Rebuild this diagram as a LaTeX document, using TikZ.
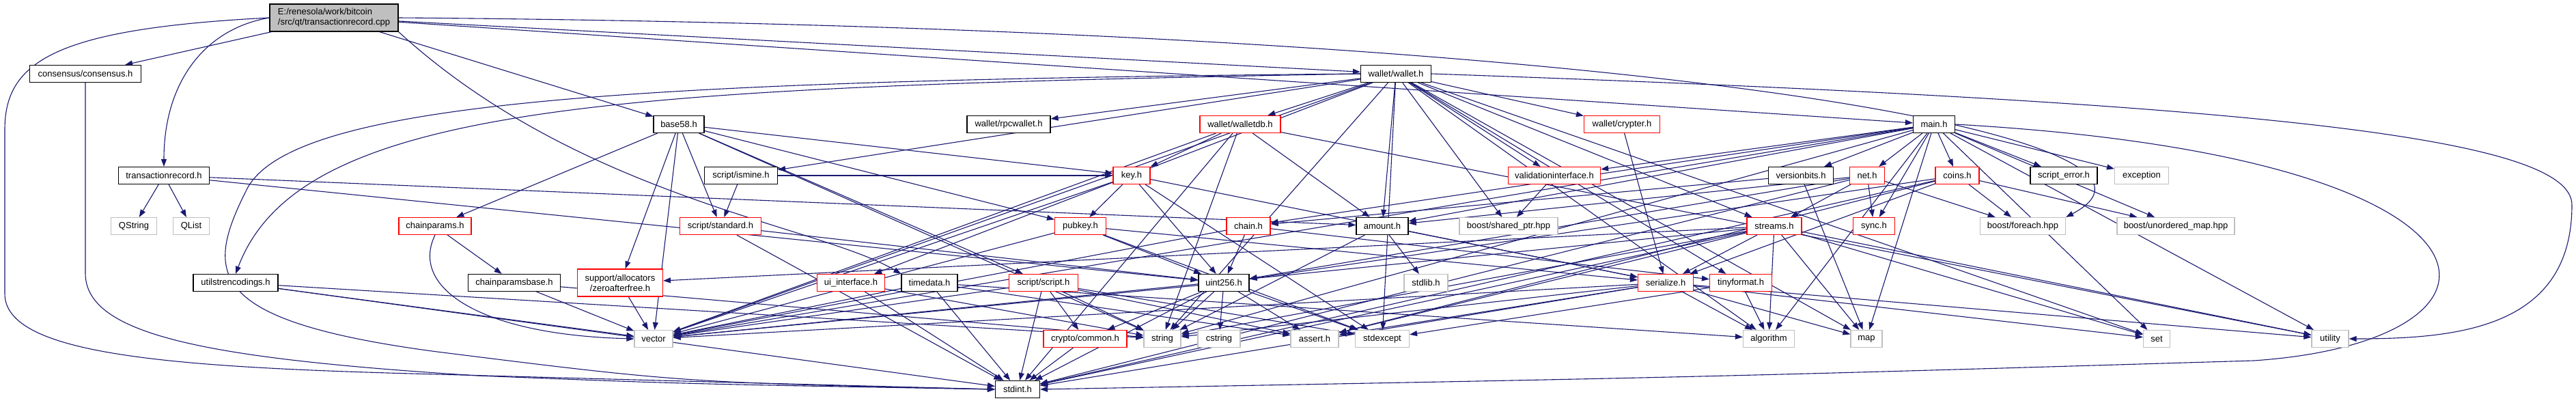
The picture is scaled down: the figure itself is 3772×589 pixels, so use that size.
\documentclass[tikz,border=0pt]{standalone}
\usepackage{fontspec}
\setmainfont{Liberation Sans}
\usetikzlibrary{arrows.meta}
\definecolor{eblue}{HTML}{191970}
\definecolor{lgray}{HTML}{BFBFBF}
\definecolor{rootfill}{HTML}{BFBFBF}
\pgfdeclarelayer{bg}
\pgfsetlayers{bg,main}
\tikzset{
  box/.style={rectangle, inner sep=0pt, minimum height=25pt, line width=1.2pt,
    fill=white, font=\fontsize{13}{15}\selectfont},
  nb/.style={box, draw=black},
  nr/.style={box, draw=red},
  ng/.style={box, draw=lgray},
  rootbox/.style={box, draw=black, fill=rootfill},
  e/.style={draw=eblue, line width=1.1pt, -{Triangle[length=11pt,width=8pt]}},
}
\begin{document}
\begin{tikzpicture}[x=1pt,y=-1pt]
\useasboundingbox (0,0) rectangle (3772,589);
% row 1
\node[rootbox, minimum width=188pt, minimum height=40pt, align=left] (root) at (489,26) {E:/renesola/work/bitcoin\\/src/qt/transactionrecord.cpp};
% row 2
\node[nb, minimum width=163pt] (cons) at (125,108) {consensus/consensus.h};
\node[nb, minimum width=103pt] (wallet) at (2044,108) {wallet/wallet.h};
% row 3
\node[nb, minimum width=74pt] (base58) at (994,182) {base58.h};
\node[nb, minimum width=122pt] (rpcw) at (1477,182) {wallet/rpcwallet.h};
\node[nr, minimum width=118pt] (walletdb) at (1816,182) {wallet/walletdb.h};
\node[nr, minimum width=111pt] (crypter) at (2375,182) {wallet/crypter.h};
\node[nb, minimum width=61pt] (main) at (2832,182) {main.h};
% row 4
\node[nb, minimum width=133pt] (trec) at (240,257) {transactionrecord.h};
\node[nb, minimum width=107pt] (ismine) at (1085,257) {script/ismine.h};
\node[nr, minimum width=54pt] (key) at (1657,257) {key.h};
\node[nr, minimum width=135pt] (valint) at (2276,257) {validationinterface.h};
\node[nb, minimum width=95pt] (versionbits) at (2637,257) {versionbits.h};
\node[nr, minimum width=51pt] (net) at (2734,257) {net.h};
\node[nr, minimum width=64pt] (coins) at (2866,257) {coins.h};
\node[nb, minimum width=98pt] (scripterr) at (3022,257) {script\_error.h};
\node[ng, minimum width=79pt] (exception) at (3136,257) {exception};
% row 5
\node[ng, minimum width=67pt] (qstring) at (196,331) {QString};
\node[ng, minimum width=53pt] (qlist) at (280,331) {QList};
\node[nr, minimum width=106pt] (chainp) at (637,331) {chainparams.h};
\node[nr, minimum width=119pt] (standard) at (1055,331) {script/standard.h};
\node[nr, minimum width=75pt] (pubkey) at (1582,331) {pubkey.h};
\node[nr, minimum width=64pt] (chain) at (1828,331) {chain.h};
\node[nb, minimum width=76pt] (amount) at (2024,331) {amount.h};
\node[ng, minimum width=144pt] (sharedptr) at (2209,331) {boost/shared\_ptr.hpp};
\node[nr, minimum width=80pt] (streams) at (2598,331) {streams.h};
\node[nr, minimum width=61pt] (sync) at (2744,331) {sync.h};
\node[ng, minimum width=125pt] (foreach) at (2962,331) {boost/foreach.hpp};
\node[ng, minimum width=172pt] (unordered) at (3186,331) {boost/unordered\_map.hpp};
% row 6
\node[nb, minimum width=124pt] (utilstr) at (345,414) {utilstrencodings.h};
\node[nb, minimum width=135pt] (chainpb) at (753,414) {chainparamsbase.h};
\node[nr, minimum width=125pt, minimum height=40pt, align=center] (zaf) at (908,414) {support/allocators\\/zeroafterfree.h};
\node[nr, minimum width=99pt] (uiint) at (1246,414) {ui\_interface.h};
\node[nb, minimum width=82pt] (timedata) at (1361,414) {timedata.h};
\node[nr, minimum width=101pt] (script) at (1528,414) {script/script.h};
\node[nb, minimum width=74pt] (uint256) at (1792,414) {uint256.h};
\node[ng, minimum width=64pt] (stdlib) at (2088,414) {stdlib.h};
\node[nr, minimum width=81pt] (serialize) at (2439,414) {serialize.h};
\node[nr, minimum width=91pt] (tinyformat) at (2549,414) {tinyformat.h};
% row 7
\node[ng, minimum width=56pt] (vector) at (957,496) {vector};
\node[nr, minimum width=122pt] (crypto) at (1589,496) {crypto/common.h};
\node[ng, minimum width=54pt] (string) at (1702,496) {string};
\node[ng, minimum width=62pt] (cstring) at (1785,496) {cstring};
\node[ng, minimum width=70pt] (assert) at (1925,496) {assert.h};
\node[ng, minimum width=79pt] (stdexcept) at (2024,496) {stdexcept};
\node[ng, minimum width=75pt] (algorithm) at (2590,496) {algorithm};
\node[ng, minimum width=46pt] (map) at (2733,496) {map};
\node[ng, minimum width=39pt] (set) at (3158,496) {set};
\node[ng, minimum width=54pt] (utility) at (3412,496) {utility};
% row 8
\node[nb, minimum width=65pt] (stdint) at (1490,570) {stdint.h};

\begin{pgfonlayer}{bg}
% curved connectors
\draw[e] (root.west) .. controls (300,42) and (240,120) .. (trec.north);
\draw[e] (root.west) .. controls (80,42) and (7,90) .. (7,190) -- (7,430)
   .. controls (7,520) and (250,538) .. (640,548) .. controls (1000,558) .. (stdint.west);
\draw[e] (cons.south) -- (125,400) .. controls (125,490) and (300,525) .. (700,550)
   .. controls (1000,562) .. (stdint.west);
\draw[e] (root.south east) .. controls (850,290) and (1200,330) .. (timedata.north west);
\draw[e] (root.east) .. controls (2400,40) and (3250,200) .. (foreach.north east);
\draw[e] (wallet.west) .. controls (900,118) and (420,150) .. (360,280)
   .. controls (300,400) and (300,470) .. (640,515) .. controls (1000,560) .. (stdint.west);
\draw[e] (wallet.west) .. controls (900,128) and (440,150) .. (utilstr.north);
\draw[e] (main.east) .. controls (3716,230) and (3716,500) .. (3300,528)
   .. controls (2500,552) .. (stdint.east);
\draw[e] (wallet.east) .. controls (3300,150) and (3766,200) .. (3766,300)
   .. controls (3766,480) and (3600,496) .. (utility.east);
\draw[e] (chainp.south) .. controls (600,420) and (700,490) .. (vector.west);
% straight connectors
\foreach \s/\t in {root/cons, root/base58, root/wallet, root/main,
  trec/qstring, trec/qlist, trec/amount, trec/uint256,
  utilstr/vector, utilstr/string, utilstr/stdint,
  chainp/chainpb,
  base58/chainp, base58/key, base58/pubkey, base58/script, base58/standard, base58/zaf, base58/string, base58/vector,
  ismine/key, ismine/standard,
  standard/uint256, standard/stdint,
  chainpb/string, chainpb/vector,
  zaf/vector,
  uiint/stdint, uiint/string,
  walletdb/amount, walletdb/key, walletdb/stdint, walletdb/string, walletdb/utility, walletdb/vector,
  key/pubkey, key/serialize, key/uint256, key/stdexcept, key/vector,
  pubkey/serialize, pubkey/uint256, pubkey/stdexcept, pubkey/vector,
  chain/uint256, chain/tinyformat, chain/vector,
  timedata/stdint, timedata/vector, timedata/algorithm, timedata/assert,
  script/crypto, script/stdint, script/string, script/assert, script/stdexcept, script/vector,
  uint256/crypto, uint256/string, uint256/cstring, uint256/assert, uint256/stdexcept, uint256/stdint, uint256/vector,
  crypto/stdint,
  wallet/walletdb, wallet/crypter, wallet/valint, wallet/rpcw, wallet/ismine, wallet/uiint, wallet/amount,
  wallet/streams, wallet/tinyformat, wallet/sharedptr, wallet/algorithm, wallet/map, wallet/set,
  wallet/stdexcept, wallet/string, wallet/vector,
  crypter/serialize,
  valint/sharedptr,
  amount/stdlib, amount/serialize, amount/string,
  main/amount, main/chain, main/coins, main/net, main/scripterr, main/sync, main/versionbits, main/valint,
  main/algorithm, main/exception, main/map, main/set, main/string, main/utility, main/vector, main/unordered,
  versionbits/chain, versionbits/map,
  net/streams, net/sync, net/amount, net/uint256, net/stdint, net/foreach,
  coins/foreach, coins/unordered, coins/serialize, coins/uint256, coins/assert, coins/stdint,
  streams/zaf, streams/serialize, streams/algorithm, streams/assert, streams/map, streams/set,
  streams/stdint, streams/string, streams/utility, streams/vector,
  serialize/algorithm, serialize/assert, serialize/map, serialize/set, serialize/stdint,
  serialize/string, serialize/utility, serialize/vector,
  tinyformat/algorithm, tinyformat/stdexcept}
  \draw[e] (\s) -- (\t);
\end{pgfonlayer}
\end{tikzpicture}
\end{document}
